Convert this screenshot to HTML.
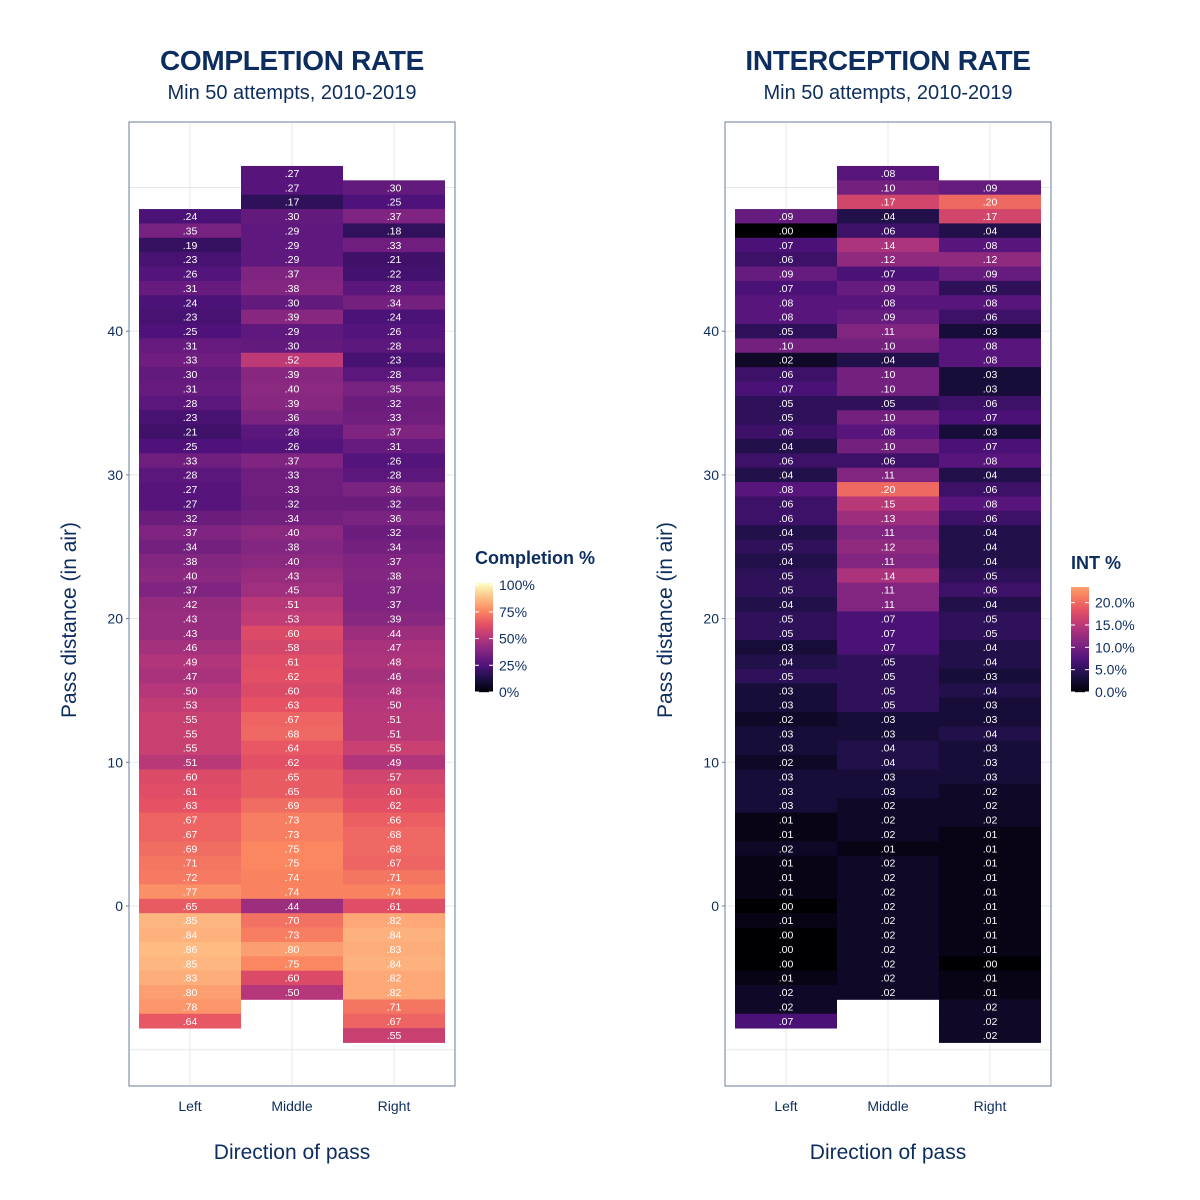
<!DOCTYPE html>
<html><head><meta charset="utf-8"><style>
body{margin:0;background:#fff;}
svg{display:block;font-family:"Liberation Sans",sans-serif;}
</style></head><body>
<svg id="chart" width="1200" height="1200" viewBox="0 0 1200 1200"></svg>
<script>
// Data
const directions = ["Left","Middle","Right"];
const compTop = [48, 51, 50];
const compLeft = [.24,.35,.19,.23,.26,.31,.24,.23,.25,.31,.33,.30,.31,.28,.23,.21,.25,.33,.28,.27,.27,.32,.37,.34,.38,.40,.37,.42,.43,.43,.46,.49,.47,.50,.53,.55,.55,.55,.51,.60,.61,.63,.67,.67,.69,.71,.72,.77,.65,.85,.84,.86,.85,.83,.80,.78,.64];
const compMiddle = [.27,.27,.17,.30,.29,.29,.29,.37,.38,.30,.39,.29,.30,.52,.39,.40,.39,.36,.28,.26,.37,.33,.33,.32,.34,.40,.38,.40,.43,.45,.51,.53,.60,.58,.61,.62,.60,.63,.67,.68,.64,.62,.65,.65,.69,.73,.73,.75,.75,.74,.74,.44,.70,.73,.80,.75,.60,.50];
const compRight = [.30,.25,.37,.18,.33,.21,.22,.28,.34,.24,.26,.28,.23,.28,.35,.32,.33,.37,.31,.26,.28,.36,.32,.36,.32,.34,.37,.38,.37,.37,.39,.44,.47,.48,.46,.48,.50,.51,.51,.55,.49,.57,.60,.62,.66,.68,.68,.67,.71,.74,.61,.82,.84,.83,.84,.82,.82,.71,.67,.55];
const intLeft = [.09,.00,.07,.06,.09,.07,.08,.08,.05,.10,.02,.06,.07,.05,.05,.06,.04,.06,.04,.08,.06,.06,.04,.05,.04,.05,.05,.04,.05,.05,.03,.04,.05,.03,.03,.02,.03,.03,.02,.03,.03,.03,.01,.01,.02,.01,.01,.01,.00,.01,.00,.00,.00,.01,.02,.02,.07];
const intMiddle = [.08,.10,.17,.04,.06,.14,.12,.07,.09,.08,.09,.11,.10,.04,.10,.10,.05,.10,.08,.10,.06,.11,.20,.15,.13,.11,.12,.11,.14,.11,.11,.07,.07,.07,.05,.05,.05,.05,.03,.03,.04,.04,.03,.03,.02,.02,.02,.01,.02,.02,.02,.02,.02,.02,.02,.02,.02,.02];
const intRight = [.09,.20,.17,.04,.08,.12,.09,.05,.08,.06,.03,.08,.08,.03,.03,.06,.07,.03,.07,.08,.04,.06,.08,.06,.04,.04,.04,.05,.06,.04,.05,.05,.04,.04,.03,.04,.03,.03,.04,.03,.03,.03,.02,.02,.02,.01,.01,.01,.01,.01,.01,.01,.01,.01,.00,.01,.01,.02,.02,.02];
const yTicks = [0,10,20,30,40];
const yGrid = [-10,0,10,20,30,40,50];
const compLegendTicks = [0,.25,.5,.75,1];
const compLegendLabels = ["0%","25%","50%","75%","100%"];
const intLegendTicks = [0,.05,.10,.15,.20];
const intLegendLabels = ["0.0%","5.0%","10.0%","15.0%","20.0%"];

const NS="http://www.w3.org/2000/svg";
const svg=document.getElementById('chart');
const NAVY="#0d2d5e";
function mk(tag,attrs,parent){const e=document.createElementNS(NS,tag);for(const k in attrs)e.setAttribute(k,attrs[k]);(parent||svg).appendChild(e);return e;}
const stops=["#000004","#1c1044","#4f127b","#812581","#b5367a","#e55064","#fb8761","#fec287","#fcfdbf"];
function hex(h){return [1,3,5].map(i=>parseInt(h.substr(i,2),16));}
function magma(t){t=Math.max(0,Math.min(1,t));const p=t*8,i=Math.min(7,Math.floor(p)),f=p-i;const a=hex(stops[i]),b=hex(stops[i+1]);return "rgb("+a.map((v,k)=>Math.round(v+(b[k]-v)*f)).join(",")+")";}
const Y0=906,PX=14.37;
function yS(v){return Y0-v*PX;}
const TW=102;
function panel(ox,title,cols,colorFn,legTitle,legTicks,legLabels,legFn,legTop,legTitleY,key){
  const g=mk('g',{},svg);
  
  
  const cx=[ox+190-129,ox+292-129,ox+394-129];
  const px=ox,pw=326;
  yGrid.forEach(v=>{const l=mk('line',{x1:px,x2:px+pw,y1:yS(v),y2:yS(v),stroke:"#e6e8ec","stroke-width":1},g);});
  cx.forEach(x=>{const l=mk('line',{x1:x,x2:x,y1:122,y2:1086,stroke:"#e6e8ec","stroke-width":1},g);});
  cols.forEach((vals,c)=>{
    vals.forEach((v,i)=>{
      const d=compTop[c]-i;
      const r=mk('rect',{x:cx[c]-TW/2,y:yS(d)-PX/2,width:TW,height:PX+0.4,fill:colorFn(v)},g);
      
      
      const t=mk('text',{x:cx[c],y:yS(d)+3.8,"text-anchor":"middle","font-size":"10.5",fill:"#fff"},g);
      
      
      t.textContent=v.toFixed(2).replace(/^0/,'');
    });
  });
  const b=mk('rect',{x:px,y:122,width:pw,height:964,fill:"none",stroke:"#6b7d9b","stroke-width":1},g);
  
  yTicks.forEach(v=>{const t=mk('text',{x:px-6,y:yS(v)+5,"text-anchor":"end","font-size":"14",fill:NAVY},g);t.textContent=v;
    mk('line',{x1:px-3,x2:px,y1:yS(v),y2:yS(v),stroke:"#6b7d9b"},g);});
  directions.forEach((d,c)=>{const t=mk('text',{x:cx[c],y:1111,"text-anchor":"middle","font-size":"14",fill:NAVY},g);t.textContent=d;});
  const tt=mk('text',{x:ox+163,y:70,"text-anchor":"middle","font-size":"28","font-weight":"bold","letter-spacing":"-0.3",fill:NAVY},g);tt.textContent=title;
  const st=mk('text',{x:ox+163,y:99,"text-anchor":"middle","font-size":"20",fill:NAVY},g);st.textContent="Min 50 attempts, 2010-2019";
  const xt=mk('text',{x:ox+163,y:1159,"text-anchor":"middle","font-size":"21",fill:NAVY},g);xt.textContent="Direction of pass";
  const yt=mk('text',{x:0,y:0,"text-anchor":"middle","font-size":"21",fill:NAVY,transform:"translate("+(ox-53)+",620) rotate(-90)"},g);yt.textContent="Pass distance (in air)";
  const lx=ox+346,lb=692,lh=lb-legTop;
  const lt=mk('text',{x:lx,y:legTitleY,"font-size":"18","font-weight":"bold",fill:NAVY},g);lt.textContent=legTitle;
  for(let i=0;i<lh;i++){const f=1-i/lh;mk('rect',{x:lx,y:legTop+i,width:18,height:1.2,fill:legFn(f)},g);}
  const maxV=legTicks.maxV;
  legTicks.forEach((v,i)=>{const y=lb-v/maxV*lh;mk('line',{x1:lx,x2:lx+4,y1:y,y2:y,stroke:"#fff"},g);mk('line',{x1:lx+14,x2:lx+18,y1:y,y2:y,stroke:"#fff"},g);
    const t=mk('text',{x:lx+24,y:y+5,"font-size":"14",fill:NAVY},g);t.textContent=legLabels[i];});
}
const compTicks=compLegendTicks.slice();compTicks.maxV=1.02;
panel(129,"COMPLETION RATE",[compLeft,compMiddle,compRight],v=>magma(v),"Completion %",compTicks,compLegendLabels,f=>magma(f),583,564,'completion');
const INTMAX=0.235;
const iTicks=intLegendTicks.slice();iTicks.maxV=INTMAX;
panel(725,"INTERCEPTION RATE",[intLeft,intMiddle,intRight],v=>magma(v/INTMAX*0.8),"INT %",iTicks,intLegendLabels,f=>magma(f*0.8),587,569,'interception');
</script>
</body></html>
